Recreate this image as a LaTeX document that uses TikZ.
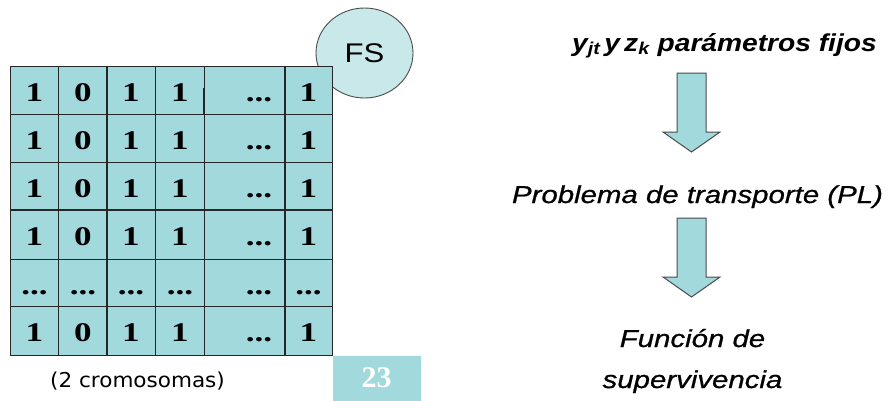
\documentclass[tikz,border=0pt]{standalone}
\usepackage{fontspec}
\setmainfont{Liberation Serif}
\newfontfamily\cellfont[FakeStretch=1.3]{Liberation Serif}
\newfontfamily\headfont[FakeStretch=1.15]{Liberation Sans}
\newfontfamily\flowfont[FakeStretch=1.2, FakeBold=0.8]{Liberation Sans}
\newfontfamily\notefont[FakeStretch=1.05]{DejaVu Sans}
\usetikzlibrary{positioning, shapes.geometric}
\definecolor{cellcyan}{RGB}{162,217,221}
\definecolor{fscyan}{RGB}{200,232,234}
\definecolor{gridgray}{RGB}{38,38,38}
\definecolor{edgegray}{RGB}{75,75,75}

\begin{document}
\begin{tikzpicture}[x=1pt, y=-1pt,
  bit/.style={anchor=base, inner sep=0pt, font=\cellfont\bfseries\fontsize{27}{27}\selectfont},
  gridline/.style={draw=gridgray, line width=1.3pt},
  flowtext/.style={anchor=base, inner sep=0pt, align=center, font=\flowfont\itshape\fontsize{24.5}{41}\selectfont},
  blockarrow/.style={fill=cellcyan, draw=edgegray, line width=1pt, line join=miter}]
  \useasboundingbox[fill=white] (0,0) rectangle (888,400);

  % FS bubble, behind the table
  \node[ellipse, fill=fscyan, draw=edgegray, line width=0.9pt,
        minimum width=97pt, minimum height=90pt,
        font=\headfont\fontsize{27}{27}\selectfont] (fs) at (364.5,53) {FS};

  % the table
  \coordinate (tl) at (10.7,66.7);
  \coordinate (br) at (332.3,355.3);
  \fill[cellcyan] (tl) rectangle (br);
  \draw[gridline] (tl) rectangle (br);
  \draw[gridline] (58.7,66.7) -- (58.7,355.3)
                  (107,66.7) -- (107,355.3)
                  (155.3,66.7) -- (155.3,355.3)
                  (204.3,66.7) -- (204.3,355.3)
                  (285,66.7) -- (285,355.3);
  \draw[gridline] (10.7,114.3) -- (332.3,114.3)
                  (10.7,162.3) -- (332.3,162.3)
                  (10.7,210) -- (332.3,210)
                  (10.7,259.3) -- (332.3,259.3)
                  (10.7,306.7) -- (332.3,306.7);
  \draw[draw=gridgray, line width=2pt] (203.6,88) -- (203.6,114.3);

  % rows of bits
  \node[bit] (r1c1) at (34.5,101.7) {1}; \node[bit] (r1c2) at (83,101.7) {0};
  \node[bit] (r1c3) at (131,101.7) {1};  \node[bit] (r1c4) at (180,101.7) {1};
  \node[bit] (r1c5) at (259,101.7) {...}; \node[bit] (r1c6) at (308.5,101.7) {1};

  \node[bit] (r2c1) at (34.5,149.3) {1}; \node[bit] (r2c2) at (83,149.3) {0};
  \node[bit] (r2c3) at (131,149.3) {1};  \node[bit] (r2c4) at (180,149.3) {1};
  \node[bit] (r2c5) at (259,149.3) {...}; \node[bit] (r2c6) at (308.5,149.3) {1};

  \node[bit] (r3c1) at (34.5,197.3) {1}; \node[bit] (r3c2) at (83,197.3) {0};
  \node[bit] (r3c3) at (131,197.3) {1};  \node[bit] (r3c4) at (180,197.3) {1};
  \node[bit] (r3c5) at (259,197.3) {...}; \node[bit] (r3c6) at (308.5,197.3) {1};

  \node[bit] (r4c1) at (34.5,245) {1}; \node[bit] (r4c2) at (83,245) {0};
  \node[bit] (r4c3) at (131,245) {1};  \node[bit] (r4c4) at (180,245) {1};
  \node[bit] (r4c5) at (259,245) {...}; \node[bit] (r4c6) at (308.5,245) {1};

  \node[bit] (r5c1) at (34.5,294.3) {...}; \node[bit] (r5c2) at (83,294.3) {...};
  \node[bit] (r5c3) at (131,294.3) {...};  \node[bit] (r5c4) at (180,294.3) {...};
  \node[bit] (r5c5) at (259,294.3) {...}; \node[bit] (r5c6) at (308.5,294.3) {...};

  \node[bit] (r6c1) at (34.5,341.7) {1}; \node[bit] (r6c2) at (83,341.7) {0};
  \node[bit] (r6c3) at (131,341.7) {1};  \node[bit] (r6c4) at (180,341.7) {1};
  \node[bit] (r6c5) at (259,341.7) {...}; \node[bit] (r6c6) at (308.5,341.7) {1};

  \node[anchor=base, inner sep=0pt, font=\notefont\fontsize{20.5}{20.5}\selectfont]
    (note) at (137.5,387) {(2 cromosomas)};
  \node[anchor=north west, fill=cellcyan, inner sep=0pt, minimum width=88pt,
        minimum height=45pt, text=white, font=\bfseries\fontsize{30}{30}\selectfont]
    (page) at (br) {23};

  % right column
  \node[anchor=base, inner sep=0pt, font=\headfont\bfseries\itshape\fontsize{24.5}{24.5}\selectfont]
    (params) at (724.5,51) {y\textsubscript{jt}\,y\,z\textsubscript{k} parámetros fijos};
  \node[flowtext] (transp) at (697.5,203) {Problema de transporte (PL)};
  \node[flowtext] (surv) at (692.5,388) {Función de\\supervivencia};

  % block arrows
  \draw[blockarrow] (677,73) -- (706,73) -- (706,132) -- (720,132) -- (691.5,152)
                    -- (663,132) -- (677,132) -- cycle;
  \draw[blockarrow] (677,218) -- (706,218) -- (706,277) -- (720,277) -- (691.5,297)
                    -- (663,277) -- (677,277) -- cycle;
\end{tikzpicture}
\end{document}
